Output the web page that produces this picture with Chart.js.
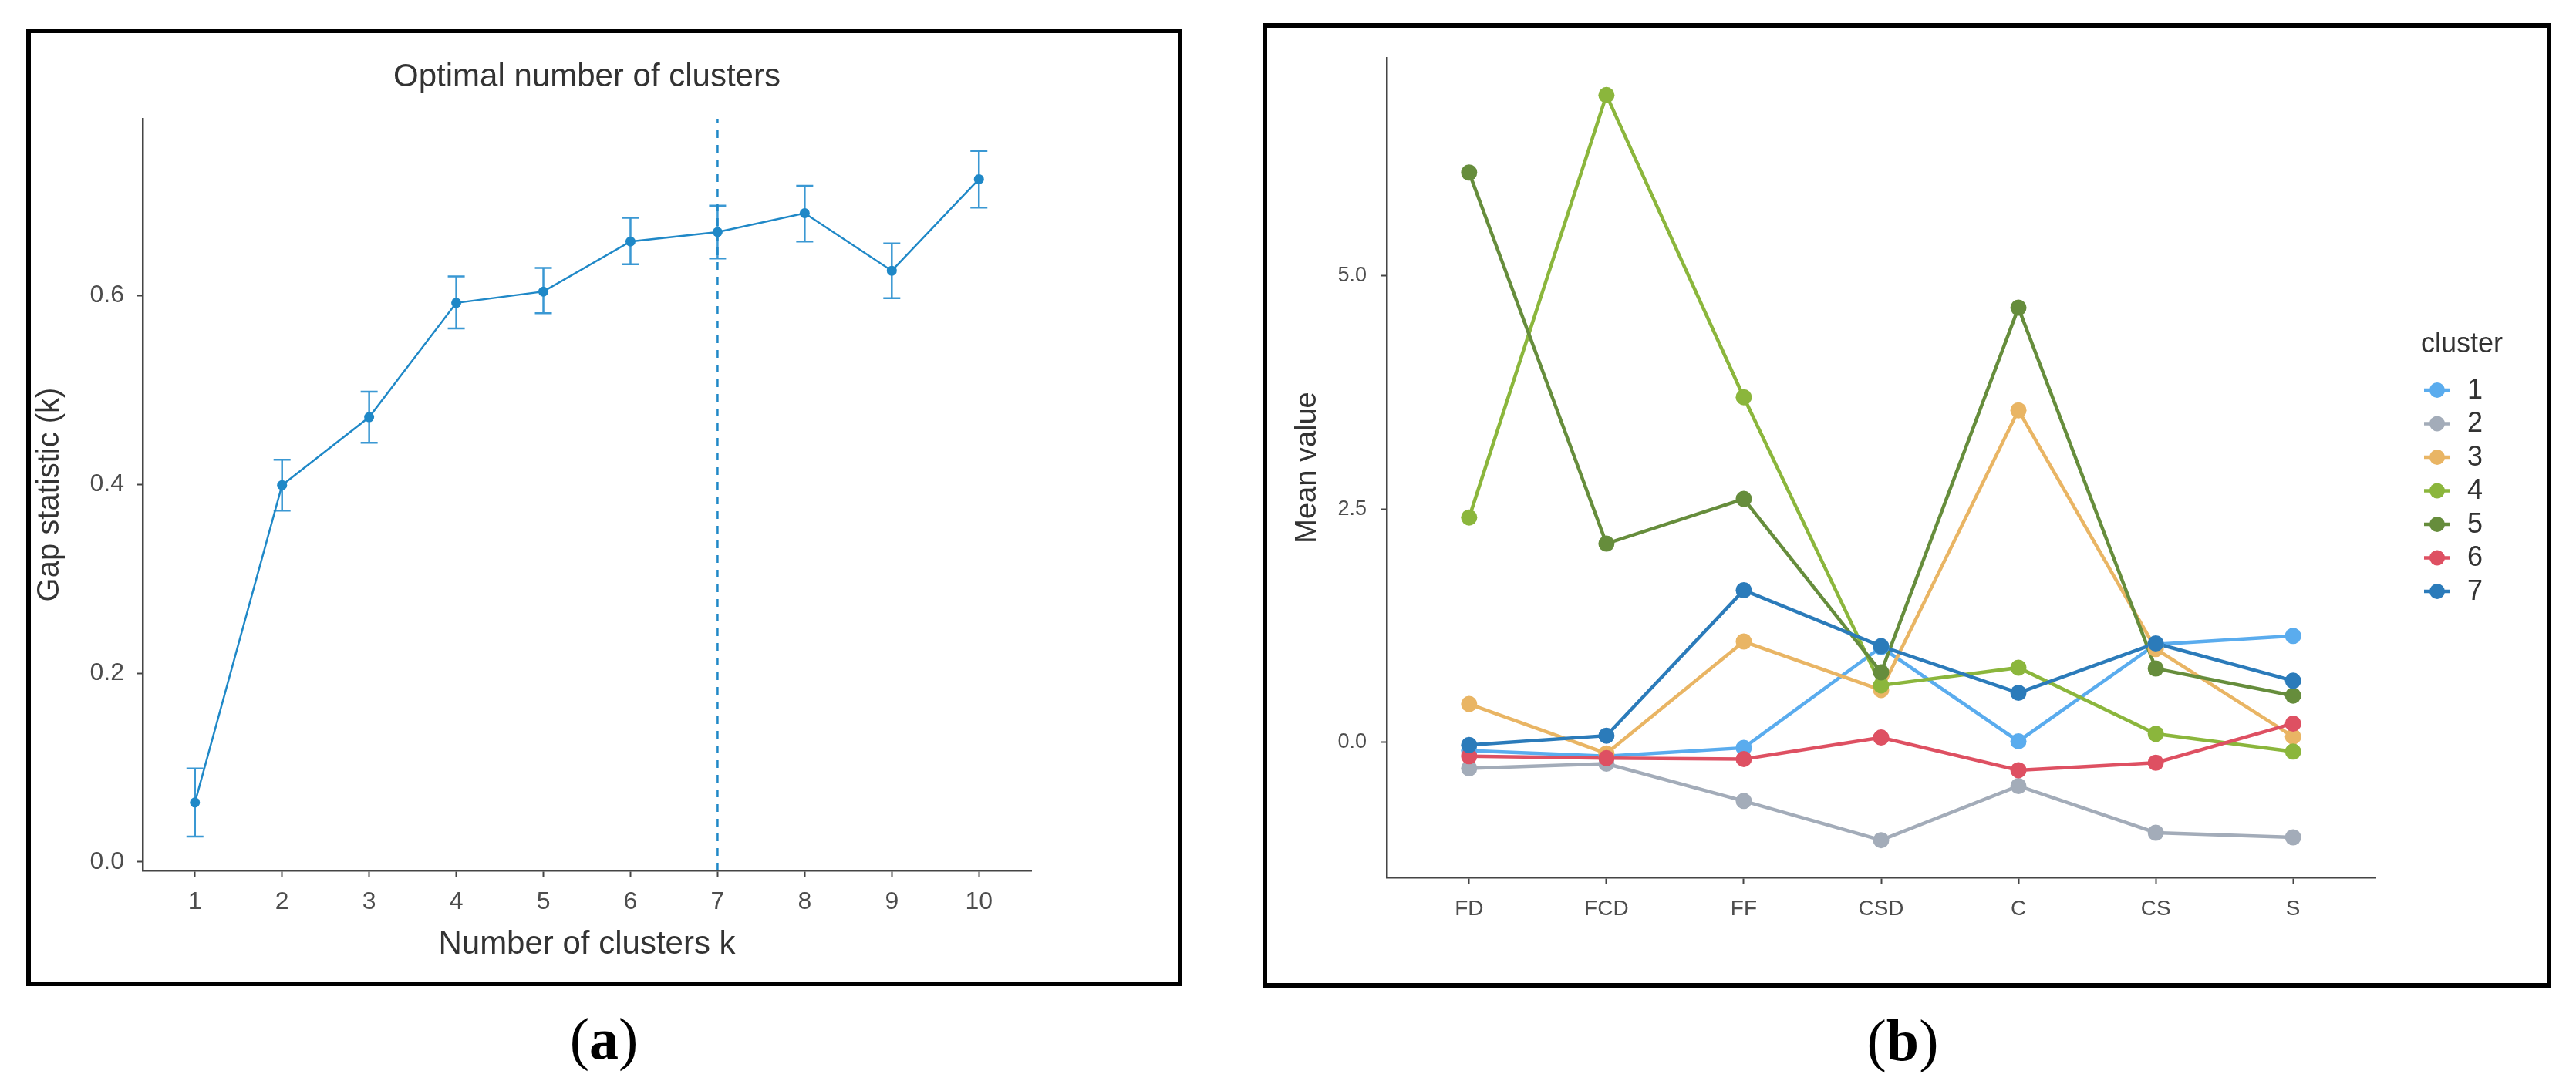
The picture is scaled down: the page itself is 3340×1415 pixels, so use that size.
<!DOCTYPE html>
<html>
<head>
<meta charset="utf-8">
<script src="https://cdn.jsdelivr.net/npm/chart.js@4.4.1/dist/chart.umd.min.js"></script>
<style>
  html, body { margin: 0; padding: 0; background: #fff; }
  body { width: 3340px; height: 1415px; position: relative; overflow: hidden; }
  .frame { position: absolute; border: 6px solid #000; box-sizing: border-box; }
  canvas { position: absolute; }
  .caption { position: absolute; font-family: "Liberation Serif", "Times New Roman", serif; font-size: 76px; line-height: 1; transform: translateX(-50%); color: #000; }
</style>
</head>
<body>
<div class="frame" style="left:34px; top:37px; width:1499px; height:1242px;"></div>
<div class="frame" style="left:1637px; top:30px; width:1671px; height:1251px;"></div>
<canvas id="gapCanvas" width="1487" height="1230" style="left:40px; top:43px;"></canvas>
<canvas id="meanCanvas" width="1659" height="1239" style="left:1643px; top:36px;"></canvas>
<div class="caption" style="left:783px; top:1309px;">(<b>a</b>)</div>
<div class="caption" style="left:2467px; top:1311px;">(<b>b</b>)</div>

<script>
// panel (a): gap statistic
const kValues = [1, 2, 3, 4, 5, 6, 7, 8, 9, 10];
const gapValues = [0.063, 0.399, 0.471, 0.592, 0.604, 0.657, 0.667, 0.687, 0.626, 0.723];
const gapLower = [0.027, 0.372, 0.444, 0.565, 0.581, 0.633, 0.639, 0.657, 0.597, 0.693];
const gapUpper = [0.099, 0.426, 0.498, 0.620, 0.629, 0.682, 0.695, 0.716, 0.655, 0.753];
const gapYTicks = [0.0, 0.2, 0.4, 0.6];
const optimalK = 7;

// panel (b): cluster means
const variables = ['FD', 'FCD', 'FF', 'CSD', 'C', 'CS', 'S'];
const clusterNames = ['1', '2', '3', '4', '5', '6', '7'];
const cluster1 = [-0.09, -0.15, -0.06, 1.02, 0.01, 1.05, 1.14];
const cluster2 = [-0.28, -0.23, -0.63, -1.05, -0.47, -0.97, -1.02];
const cluster3 = [0.41, -0.12, 1.08, 0.56, 3.56, 1.00, 0.06];
const cluster4 = [2.41, 6.94, 3.70, 0.61, 0.80, 0.09, -0.10];
const cluster5 = [6.11, 2.13, 2.61, 0.75, 4.66, 0.79, 0.50];
const cluster6 = [-0.15, -0.17, -0.18, 0.05, -0.30, -0.22, 0.20];
const cluster7 = [-0.03, 0.07, 1.63, 1.03, 0.53, 1.06, 0.66];
const meanYTicks = [0.0, 2.5, 5.0];

const clusterSeries = [cluster1, cluster2, cluster3, cluster4, cluster5, cluster6, cluster7];
const clusterColors = ['#5aacee', '#a3acb9', '#e9b564', '#8bb63c', '#668d3c', '#de5062', '#2b7bba'];

const FONT = '"Liberation Sans", Arial, Helvetica, sans-serif';
const axisColor = '#444';
const tickText = '#4d4d4d';
const titleText = '#333';
const gapColor = '#1f88c7';
const gapYMin = -0.009, gapYMax = 0.787;

const axisGrid = { display: true, drawOnChartArea: false, drawTicks: true, tickLength: 8, tickColor: axisColor, tickWidth: 2 };
const axisBorder = { display: true, color: axisColor, width: 2.5 };

const errorBars = {
  id: 'errorBars',
  beforeDatasetsDraw(chart) {
    const { ctx, scales: { x, y } } = chart;
    ctx.save();
    ctx.strokeStyle = '#3a98d3';
    ctx.lineWidth = 2.5;
    kValues.forEach((k, i) => {
      const px = x.getPixelForValue(k);
      const lo = y.getPixelForValue(gapLower[i]);
      const hi = y.getPixelForValue(gapUpper[i]);
      ctx.beginPath();
      ctx.moveTo(px, lo); ctx.lineTo(px, hi);
      ctx.moveTo(px - 11, lo); ctx.lineTo(px + 11, lo);
      ctx.moveTo(px - 11, hi); ctx.lineTo(px + 11, hi);
      ctx.stroke();
    });
    ctx.restore();
  }
};

new Chart(document.getElementById('gapCanvas'), {
  type: 'line',
  data: {
    datasets: [
      {
        data: kValues.map((k, i) => ({ x: k, y: gapValues[i] })),
        borderColor: gapColor, backgroundColor: gapColor,
        borderWidth: 2.5, pointRadius: 6.5, pointHoverRadius: 6.5, pointBorderWidth: 0
      },
      {
        data: [{ x: optimalK, y: gapYMin }, { x: optimalK, y: gapYMax }],
        borderColor: gapColor, borderWidth: 2.5, borderDash: [10, 9], pointRadius: 0
      }
    ]
  },
  options: {
    responsive: false,
    animation: false,
    devicePixelRatio: 1,
    layout: { padding: { left: 0, right: 190, top: 0, bottom: 0 } },
    plugins: {
      legend: { display: false },
      tooltip: { enabled: false },
      title: {
        display: true, text: 'Optimal number of clusters', fullSize: false,
        font: { family: FONT, size: 42, weight: 'normal' }, color: titleText,
        padding: { top: 32, bottom: 28.6 }
      }
    },
    scales: {
      x: {
        type: 'linear', min: 0.4, max: 10.6,
        afterBuildTicks: s => { s.ticks = kValues.map(v => ({ value: v })); },
        afterFit: s => { s.height = 144; },
        ticks: { font: { family: FONT, size: 32 }, color: tickText, padding: 14, autoSkip: false, maxRotation: 0 },
        grid: axisGrid, border: axisBorder,
        title: { display: true, text: 'Number of clusters k', font: { family: FONT, size: 42 }, color: titleText, padding: { top: 0, bottom: 22 } }
      },
      y: {
        type: 'linear', min: gapYMin, max: gapYMax,
        afterBuildTicks: s => { s.ticks = gapYTicks.map(v => ({ value: v })); },
        afterFit: s => { s.width = 145; },
        ticks: { font: { family: FONT, size: 32 }, color: tickText, padding: 16, callback: v => v.toFixed(1) },
        grid: axisGrid, border: axisBorder,
        title: { display: true, text: 'Gap statistic (k)', font: { family: FONT, size: 40 }, color: titleText, padding: { top: 1, bottom: 0 } }
      }
    }
  },
  plugins: [errorBars]
});

// legend drawn to the right of panel (b), ggplot style
const clusterLegend = {
  id: 'clusterLegend',
  afterDraw(chart) {
    const ctx = chart.ctx;
    ctx.save();
    ctx.textBaseline = 'middle';
    ctx.fillStyle = titleText;
    ctx.font = '36px ' + FONT;
    ctx.fillText('cluster', 1496, 411);
    clusterNames.forEach((name, i) => {
      const cy = 470 + i * 43.5;
      ctx.strokeStyle = clusterColors[i];
      ctx.lineWidth = 4.5;
      ctx.beginPath(); ctx.moveTo(1500, cy); ctx.lineTo(1534, cy); ctx.stroke();
      ctx.fillStyle = clusterColors[i];
      ctx.beginPath(); ctx.arc(1517, cy, 10, 0, Math.PI * 2); ctx.fill();
      ctx.fillStyle = titleText;
      ctx.font = '36px ' + FONT;
      ctx.fillText(name, 1556, cy + 1);
    });
    ctx.restore();
  }
};

const lineSets = clusterSeries.map((vals, i) => ({
  label: clusterNames[i],
  data: vals.map((v, j) => ({ x: j + 1, y: v })),
  borderColor: clusterColors[i], backgroundColor: clusterColors[i],
  borderWidth: 4.5, pointRadius: 0, order: 20 - i
}));
const pointSets = clusterSeries.map((vals, i) => ({
  label: clusterNames[i],
  data: vals.map((v, j) => ({ x: j + 1, y: v })),
  borderColor: clusterColors[i], backgroundColor: clusterColors[i],
  showLine: false, pointRadius: 10.5, pointHoverRadius: 10.5, pointBorderWidth: 0, order: 10 - i
}));

new Chart(document.getElementById('meanCanvas'), {
  type: 'line',
  data: { datasets: lineSets.concat(pointSets) },
  options: {
    responsive: false,
    animation: false,
    devicePixelRatio: 1,
    layout: { padding: { left: 0, right: 222, top: 39, bottom: 0 } },
    plugins: { legend: { display: false }, tooltip: { enabled: false } },
    scales: {
      x: {
        type: 'linear', min: 0.4, max: variables.length + 0.6,
        afterBuildTicks: s => { s.ticks = variables.map((v, j) => ({ value: j + 1 })); },
        afterFit: s => { s.height = 137; },
        ticks: { font: { family: FONT, size: 28 }, color: tickText, padding: 16, autoSkip: false, maxRotation: 0,
                 callback: v => variables[v - 1] },
        grid: axisGrid, border: axisBorder
      },
      y: {
        type: 'linear', min: -1.45, max: 7.34,
        afterBuildTicks: s => { s.ticks = meanYTicks.map(v => ({ value: v })); },
        afterFit: s => { s.width = 155; },
        ticks: { font: { family: FONT, size: 27 }, color: tickText, padding: 18, callback: v => v.toFixed(1) },
        grid: axisGrid, border: axisBorder,
        title: { display: true, text: 'Mean value', font: { family: FONT, size: 38 }, color: titleText, padding: { top: 30, bottom: 0 } }
      }
    }
  },
  plugins: [clusterLegend]
});
</script>
</body>
</html>
